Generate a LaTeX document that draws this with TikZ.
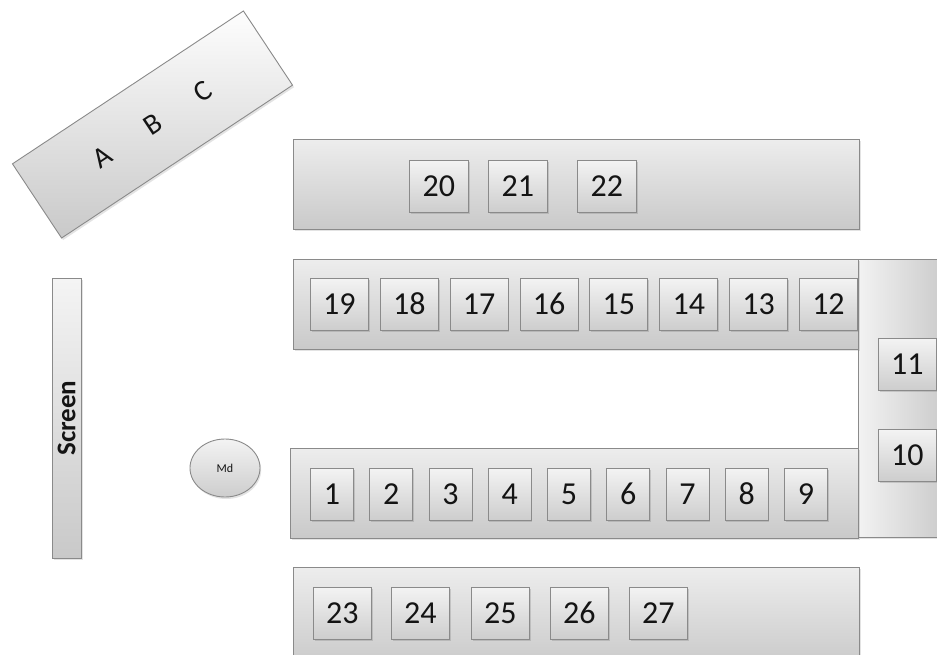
\documentclass[tikz,border=0pt]{standalone}
\usepackage{fontspec}
\setmainfont{Carlito}[Numbers=Lining]
\usetikzlibrary{shadows,shapes.geometric}
\definecolor{edgegray}{HTML}{8A8A8A}
\definecolor{tabletop}{HTML}{EDEDED}
\definecolor{tablebot}{HTML}{C9C9C9}
\definecolor{seattop}{HTML}{F3F3F3}
\definecolor{seatbot}{HTML}{CDCDCD}
\definecolor{inkblack}{HTML}{141414}
\begin{document}
\begin{tikzpicture}[x=1pt,y=-1pt,
  tablebox/.style={draw=edgegray, line width=0.9pt, top color=tabletop, bottom color=tablebot,
    drop shadow={opacity=0.22, shadow xshift=1.5pt, shadow yshift=-2pt},
    inner sep=0pt, anchor=north west},
  seatbox/.style={draw=edgegray, line width=0.9pt, top color=seattop, bottom color=seatbot,
    drop shadow={opacity=0.3, shadow xshift=1.2pt, shadow yshift=-2pt},
    inner sep=0pt, anchor=north west, minimum height=52pt, text=inkblack,
    text height=20pt, text depth=0pt,
    font=\fontsize{32}{32}\selectfont},
  wideseat/.style={seatbox, minimum width=58pt},
  narrowseat/.style={seatbox, minimum width=43pt},
  letter/.style={text=inkblack, font=\fontsize{29}{29}\selectfont, rotate=33.5, inner sep=0pt}
]
\useasboundingbox (0,0) rectangle (937,655);

% rotated table A B C
\node[draw=edgegray, line width=0.9pt, top color=white!92!tabletop, bottom color=tablebot,
  drop shadow={opacity=0.22, shadow xshift=1.5pt, shadow yshift=-2pt},
  minimum width=277pt, minimum height=89pt, rotate=33.5, inner sep=0pt] (abc) at (152.5,124.5) {};
\node[letter] (la) at (102.5,157.6) {A};
\node[letter] (lb) at (152.5,124.5) {B};
\node[letter] (lc) at (202.5,91.4) {C};

% screen
\node[draw=edgegray, line width=0.9pt, top color=tabletop!60!white, bottom color=tablebot,
  drop shadow={opacity=0.22, shadow xshift=1.5pt, shadow yshift=-2pt},
  minimum width=280pt, minimum height=29pt, rotate=90, inner sep=0pt, text=inkblack,
  font=\bfseries\fontsize{27}{27}\selectfont] (screen) at (66.5,418) {Screen};

% moderator
\node[ellipse, draw=edgegray, line width=0.9pt, top color=seattop, bottom color=seatbot,
  drop shadow={opacity=0.22, shadow xshift=1.2pt, shadow yshift=-2pt},
  minimum width=70pt, minimum height=58pt, inner sep=0pt, text=inkblack,
  font=\fontsize{12}{12}\selectfont] (md) at (225,468) {Md};

% tables
\node[tablebox, minimum width=90pt, minimum height=278pt,
  left color=tabletop!70!white, right color=tablebot] (tv) at (858,259) {};
\node[tablebox, minimum width=566pt, minimum height=90pt] (t1) at (293,139) {};
\node[tablebox, minimum width=565pt, minimum height=90pt] (t2) at (293,259) {};
\node[tablebox, minimum width=568pt, minimum height=90pt] (t3) at (290,448) {};
\node[tablebox, minimum width=566pt, minimum height=100pt] (t4) at (293,567) {};

% seats 20-22
\node[wideseat, minimum width=59pt] (s20) at (409,160) {20};
\node[wideseat, minimum width=59pt] (s21) at (488,160) {21};
\node[wideseat, minimum width=59pt] (s22) at (577,160) {22};

% seats 19-12
\foreach \n [count=\i from 0] in {19,18,17,16,15,14,13,12}
  \node[wideseat] (s\n) at ({310+69.86*\i},278) {\n};

% seats 11, 10
\node[wideseat] (s11) at (878,338) {11};
\node[wideseat] (s10) at (878,429) {10};

% seats 1-9
\foreach \n [count=\i from 0] in {1,2,3,4,5,6,7,8,9}
  \node[narrowseat] (s\n) at ({310+59.25*\i},468) {\n};

% seats 23-27
\node[wideseat] (s23) at (313,587) {23};
\node[wideseat] (s24) at (391,587) {24};
\node[wideseat] (s25) at (471,587) {25};
\node[wideseat] (s26) at (550,587) {26};
\node[wideseat] (s27) at (629,587) {27};
\end{tikzpicture}
\end{document}
